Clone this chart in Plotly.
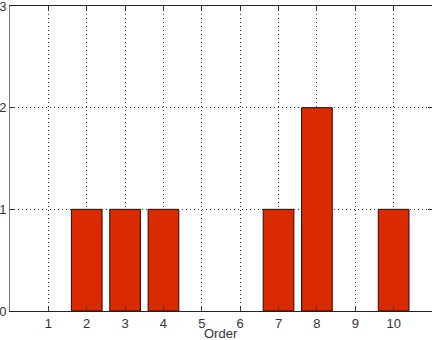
import plotly.graph_objects as go

orders = [1, 2, 3, 4, 5, 6, 7, 8, 9, 10]
counts = [0, 1, 1, 1, 0, 0, 1, 2, 0, 1]
x_ticks = [1, 2, 3, 4, 5, 6, 7, 8, 9, 10]
y_ticks = [0, 1, 2, 3]

FONT = "Liberation Sans Narrow, Liberation Sans, Arial, sans-serif"

fig = go.Figure(go.Bar(
    x=orders, y=counts, width=0.8,
    marker=dict(color="#DA2A02",
                line=dict(color="#2a0a00", width=[1 if c > 0 else 0 for c in counts])),
))

fig.update_layout(
    width=432, height=340,
    margin=dict(l=10, r=0, t=6, b=29),
    plot_bgcolor="white", paper_bgcolor="white",
    showlegend=False,
    font=dict(family=FONT, size=13, color="#333"),
    annotations=[dict(text="Order", xref="paper", yref="paper", x=0.5, y=0,
                      yshift=-13, yanchor="top", showarrow=False,
                      font=dict(size=13, color="#333"))],
)
fig.update_xaxes(
    range=[0, 11], tickvals=x_ticks, ticktext=[str(v) for v in x_ticks],
    showgrid=True, gridcolor="#333", griddash="1px,3px", gridwidth=1,
    showline=True, linecolor="#222", linewidth=1, mirror="ticks",
    ticks="inside", ticklen=4, tickcolor="#333",
    zeroline=False, automargin=False, ticklabeloverflow="allow",
)
fig.update_yaxes(
    range=[0, 3], tickvals=y_ticks, ticktext=[str(v) for v in y_ticks],
    showgrid=True, gridcolor="#333", griddash="1px,3px", gridwidth=1,
    showline=True, linecolor="#777", linewidth=1, mirror="ticks",
    ticks="inside", ticklen=4, tickcolor="#333",
    zeroline=False, ticklabelstandoff=0, automargin=False,
    ticklabeloverflow="allow",
)
fig.write_html("out.html", config={"displayModeBar": False},
               post_script="document.body.style.margin='0';document.body.style.overflow='hidden';")
